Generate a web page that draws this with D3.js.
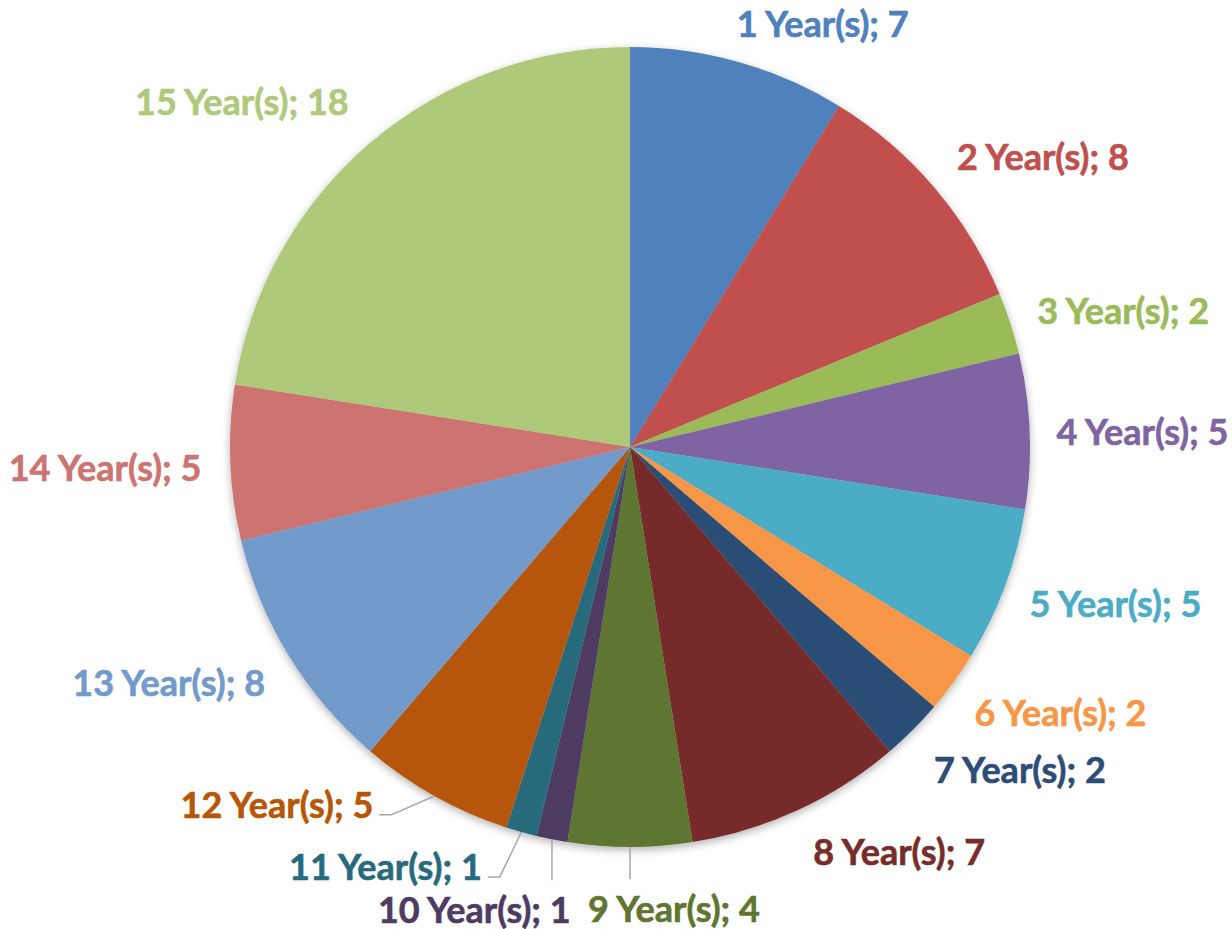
<!DOCTYPE html>
<html>
<head>
<meta charset="utf-8">
<script src="https://cdn.jsdelivr.net/npm/d3@7/dist/d3.min.js"></script>
<style>
  body { margin: 0; background: #fff; }
  text { font-family: Lato, "Open Sans", sans-serif; font-weight: bold; }
</style>
</head>
<body>
<script>
const categories = ["1 Year(s)", "2 Year(s)", "3 Year(s)", "4 Year(s)", "5 Year(s)",
  "6 Year(s)", "7 Year(s)", "8 Year(s)", "9 Year(s)", "10 Year(s)",
  "11 Year(s)", "12 Year(s)", "13 Year(s)", "14 Year(s)", "15 Year(s)"];
const values = [7, 8, 2, 5, 5, 2, 2, 7, 4, 1, 1, 5, 8, 5, 18];
const colors = ["#4F81BD", "#C0504D", "#9BBB59", "#8064A2", "#4BACC6",
  "#F79646", "#2C4D75", "#772C2A", "#5F7530", "#4D3B62",
  "#276A7C", "#B65708", "#729ACA", "#CD7371", "#AFC97A"];

const width = 1232, height = 929;
const cx = 630, cy = 447, radius = 400;
const labelDist = 440;
const fontSize = 36;

// labels Excel moved away from their default spot (dx, dy)
const labelNudge = {
  0: [50, 16], 1: [13, 6], 2: [-7, 4], 3: [-13, 2], 4: [-8, -2],
  5: [5, -4], 6: [18, -1], 7: [49, -11],
  8: [44, 4], 9: [-51, 14], 10: [-99, -21], 11: [-91, -42],
  12: [-4, -4], 13: [11, 2], 14: [-33, 2]
};
const withLeader = [8, 9, 10, 11];

const svg = d3.select(document.body).append('svg')
  .attr('width', width)
  .attr('height', height);

const defs = svg.append('defs');
defs.append('filter')
  .attr('id', 'shadow')
  .attr('x', '-10%').attr('y', '-10%').attr('width', '120%').attr('height', '120%')
  .append('feDropShadow')
  .attr('dx', 0).attr('dy', 3)
  .attr('stdDeviation', 4)
  .attr('flood-color', '#000')
  .attr('flood-opacity', 0.3);

const pie = d3.pie().sort(null).value(d => d);
const arcs = pie(values);
const arc = d3.arc().innerRadius(0).outerRadius(radius);

const g = svg.append('g').attr('transform', `translate(${cx},${cy})`);

g.append('g')
  .attr('filter', 'url(#shadow)')
  .selectAll('path')
  .data(arcs)
  .enter().append('path')
  .attr('d', arc)
  .attr('fill', (d, i) => colors[i]);

const lines = g.append('g');
const labels = g.selectAll('.label')
  .data(arcs)
  .enter().append('text')
  .classed('label', true)
  .attr('text-anchor', 'middle')
  .attr('dominant-baseline', 'central')
  .attr('font-size', fontSize)
  .attr('fill', (d, i) => colors[i])
  .attr('stroke', (d, i) => colors[i])
  .attr('stroke-width', 0.6)
  .text((d, i) => `${categories[i]}; ${values[i]}`);

labels.each(function(d, i) {
  const w = this.getComputedTextLength();
  const h = fontSize * 0.95;
  const a = (d.startAngle + d.endAngle) / 2;
  const s = Math.sin(a), c = Math.cos(a);
  let x = labelDist * s + w / 2 * s;
  let y = -labelDist * c - h / 2 * c;
  const n = labelNudge[i];
  if (n) { x += n[0]; y += n[1]; }
  d3.select(this).attr('x', x).attr('y', y);

  if (withLeader.includes(i)) {
    const ax = radius * s, ay = -radius * c;
    const left = x - w / 2, right = x + w / 2;
    let pts;
    if (ax > left && ax < right) {
      pts = [[ax, ay], [ax, y - h / 2 - 12]];
    } else {
      const yy = y + 11;
      pts = [[ax, ay], [right + 18, yy], [right + 6, yy]];
    }
    lines.append('path')
      .attr('d', d3.line()(pts))
      .attr('fill', 'none')
      .attr('stroke', '#A6A6A6')
      .attr('stroke-width', 1.5);
  }
});
</script>
</body>
</html>
